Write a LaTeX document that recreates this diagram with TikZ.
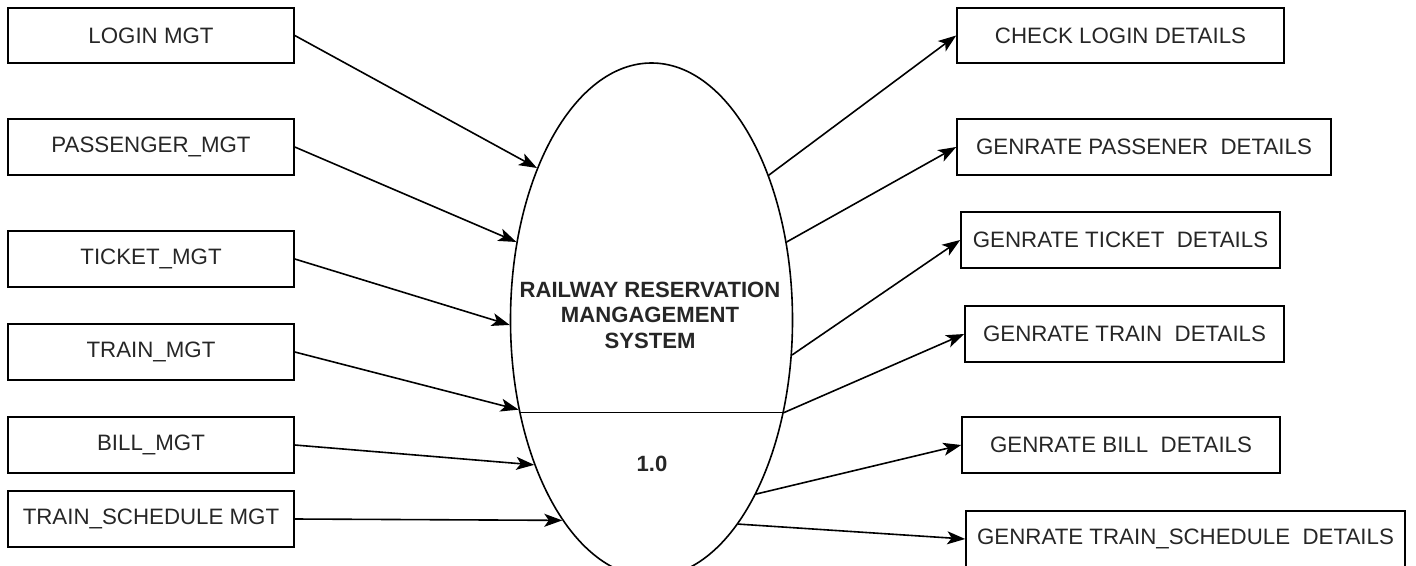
\documentclass[tikz,border=0pt]{standalone}
\usepackage{fontspec}
\setmainfont{Liberation Sans}
\usetikzlibrary{shapes.geometric,arrows.meta}
\begin{document}
\begin{tikzpicture}[x=1pt,y=-1pt,
  box/.style={draw, line width=1.6pt, minimum height=56pt, inner sep=0pt, font=\fontsize{22.3}{25}\selectfont, text=black!85},
  flow/.style={line width=1.6pt, -{Stealth[length=18pt,width=13pt,inset=4.5pt]}},
  plain/.style={line width=1.6pt}]
\useasboundingbox (0,0) rectangle (1416,565);
% process
\node[draw, ellipse, line width=1.6pt, minimum width=282pt, minimum height=514pt, inner sep=0pt] (ell) at (651.5,320) {};
\node[align=center, font=\fontsize{22.1}{25.5}\selectfont\bfseries, text=black!85] (title) at (650,315) {RAILWAY RESERVATION\\MANGAGEMENT\\SYSTEM};
\node[font=\fontsize{22.1}{25.5}\selectfont\bfseries, text=black!85] (num) at (652,464) {1.0};
\draw[plain] (ell.215.3) -- (ell.-35.3);
% left boxes
\node[box, minimum width=286pt, minimum height=55pt] (l1) at (151,35.5) {LOGIN MGT};
\node[box, minimum width=286pt] (l2) at (151,147) {PASSENGER\_MGT};
\node[box, minimum width=286pt] (l3) at (151,259) {TICKET\_MGT};
\node[box, minimum width=286pt] (l4) at (151,352) {TRAIN\_MGT};
\node[box, minimum width=286pt] (l5) at (151,445) {BILL\_MGT};
\node[box, minimum width=286pt] (l6) at (151,519) {TRAIN\_SCHEDULE MGT};
% right boxes
\node[box, minimum width=327pt, minimum height=55pt] (r1) at (1120.5,35.5) {CHECK LOGIN DETAILS};
\node[box, minimum width=374pt] (r2) at (1144,147) {GENRATE PASSENER~ DETAILS};
\node[box, minimum width=319pt] (r3) at (1120.5,240) {GENRATE TICKET~ DETAILS};
\node[box, minimum width=319pt] (r4) at (1124.5,334) {GENRATE TRAIN~ DETAILS};
\node[box, minimum width=318pt] (r5) at (1121,445) {GENRATE BILL~ DETAILS};
\node[box, minimum width=439pt] (r6) at (1185.5,539) {GENRATE TRAIN\_SCHEDULE~ DETAILS};
% inputs
\draw[flow] (l1.east) -- (ell.127.8);
\draw[flow] (l2.east) -- (ell.150.9);
\draw[flow] (l3.east) -- (ell.182.9);
\draw[flow] (l4.east) -- (ell.214.8);
\draw[flow] (l5.east) -- (ell.231.5);
\draw[flow] (l6.east) -- (ell.246.2);
% outputs
\draw[flow] (ell.51.6) -- (r1.west);
\draw[flow] (ell.30.6) -- (r2.west);
\draw[flow] (ell.-14.2) -- (r3.west);
\draw[flow] (ell.-35.9) -- (r4.west);
\draw[flow] (ell.-59.7) -- (r5.west);
\draw[flow] (ell.-67.7) -- (r6.west);
\end{tikzpicture}
\end{document}
